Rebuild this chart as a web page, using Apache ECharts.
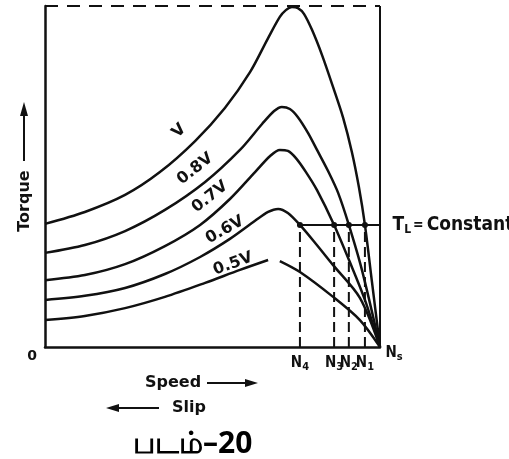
<!DOCTYPE html>
<html>
<head>
<meta charset="utf-8">
<script src="https://cdn.jsdelivr.net/npm/echarts@6/dist/echarts.min.js"></script>
<style>
  html, body { margin: 0; padding: 0; background: #fff; }
  #chart { width: 509px; height: 459px; }
</style>
</head>
<body>
<div id="chart"></div>
<script>
// Speed in % of synchronous speed Ns, torque in % of the full-voltage breakdown torque.
const curveV = [[0,36.1],[11.9,39.6],[23.9,44.6],[34.3,51.3],[44.8,60.4],[53.7,70.1],[61.2,80.6],[66.6,90.6],[70.1,96.8],[71.9,98.8],[73.7,99.7],[75.5,99.4],[77.3,97.7],[79.7,93.0],[82.7,85.6],[86.0,76.2],[89.0,67.2],[91.6,57.2],[93.7,46.9],[95.5,35.8],[97.6,19.1],[100,0]];
const curve08 = [[0,27.6],[11.9,29.9],[23.9,34.0],[35.8,40.2],[47.8,48.4],[58.2,57.8],[64.8,65.4],[68.4,69.2],[70.7,70.4],[73.1,69.8],[75.5,67.4],[78.5,62.8],[81.2,57.8],[84.5,51.6],[87.5,45.2],[90.7,35.8],[94.6,22.6],[100,0]];
const curve07 = [[0,19.6],[11.9,21.1],[23.9,24.3],[35.8,29.6],[46.3,35.8],[55.2,43.4],[62.7,51.3],[67.2,56.0],[70.1,57.8],[72.5,57.5],[74.9,55.4],[77.9,51.3],[81.2,46.0],[86.3,35.8],[91.0,24.9],[95.5,13.8],[100,0]];
const curve06 = [[0,13.8],[11.9,15.0],[23.9,17.3],[35.8,21.4],[46.3,26.4],[55.2,31.7],[62.7,37.0],[66.6,39.6],[69.6,40.5],[72.5,39.3],[76.1,35.8],[80.9,30.2],[86.0,24.0],[94.0,14.4],[100,0]];
const curve05Rise = [[0,7.9],[11.9,9.1],[23.9,11.4],[35.8,14.7],[47.8,18.8],[58.2,22.6],[66.6,25.5]];
const curve05Fall = [[70.1,25.2],[76.1,22.0],[86.0,14.7],[94.0,7.9],[100,0]];

const curveNames = ['V', '0.8V', '0.7V', '0.6V', '0.5V'];
const loadTorque = 35.8;                       // T_L
const speedTicks = [76.1, 86.3, 90.7, 95.5];   // N4, N3, N2, N1
const speedTickNames = ['N{s|4}', 'N{s|3}', 'N{s|2}', 'N{s|1}'];
const syncSpeed = 100;                         // Ns
const torqueTop = 100;

const INK = '#111';
const BOLD = '"DejaVu Sans", sans-serif';
const COND = '"DejaVu Sans Condensed", "DejaVu Sans", sans-serif';

// label placement for each curve name: anchor point index, screen shift to text centre, angle
const nameStyle = [
  { data: curveV,      idx: 4, dx: -16, dy: -10, rot: 45 },
  { data: curve08,     idx: 4, dx: -10, dy: -13, rot: 38 },
  { data: curve07,     idx: 5, dx: -20, dy: -2,  rot: 38 },
  { data: curve06,     idx: 5, dx: -5,  dy: -9,  rot: 29 },
  { data: curve05Rise, idx: 5, dx: -7,  dy: -6,  rot: 20 }
];

// label offsets are applied in the rotated text frame
function rotOffset(dx, dy, deg) {
  const t = deg * Math.PI / 180;
  return [dx * Math.cos(t) - dy * Math.sin(t), dx * Math.sin(t) + dy * Math.cos(t)];
}

const subStyle = (size, pad) => ({ fontFamily: COND, fontWeight: 'bold', fontSize: size, color: INK, padding: [pad, 0, 0, 0] });
const hidden = { color: 'transparent', opacity: 1 };

function curve(data) {
  return {
    type: 'line', data, symbol: 'none', smooth: 0.3, silent: true, z: 3,
    lineStyle: { color: INK, width: 2.5 }
  };
}

function dashedDrop(n) {
  return {
    type: 'line', data: [[n, 0], [n, loadTorque]], symbol: 'none', silent: true, z: 2,
    lineStyle: { color: INK, width: 2, type: [10, 5] }
  };
}

const series = [
  // frame: dashed top at breakdown torque, solid right edge at Ns
  { type: 'line', data: [[0, torqueTop], [syncSpeed, torqueTop]], symbol: 'none', silent: true,
    lineStyle: { color: INK, width: 2, type: [13, 9] } },
  { type: 'line', data: [[syncSpeed, 0], [syncSpeed, torqueTop]], symbol: 'none', silent: true,
    lineStyle: { color: INK, width: 2 } },
  curve(curveV), curve(curve08), curve(curve07), curve(curve06),
  curve(curve05Rise), curve(curve05Fall),
  // constant load torque line
  { type: 'line', clip: false, symbol: 'none', silent: true, z: 4,
    data: [[speedTicks[0], loadTorque],
           { value: [103, loadTorque], symbol: 'circle', symbolSize: 1,
             itemStyle: hidden,
             label: { show: true, position: 'right', distance: 2, color: INK,
               fontFamily: COND, fontWeight: 'bold', fontSize: 19,
               formatter: 'T{s|L}{q|=}Constant',
               rich: { s: subStyle(12, 9), q: { fontFamily: COND, fontWeight: 'bold', fontSize: 14, color: INK, padding: [0, 3, 0, 2] } } } }],
    lineStyle: { color: INK, width: 2 } },
  ...speedTicks.map(dashedDrop),
  // operating points
  { type: 'scatter', data: speedTicks.map(n => [n, loadTorque]), symbolSize: 6, silent: true, z: 5,
    itemStyle: { color: INK, opacity: 1 } },
  // speed names under the axis
  { type: 'scatter', silent: true, z: 5, symbolSize: 1, itemStyle: hidden,
    data: speedTicks.map(n => [n, 0]),
    label: { show: true, position: 'bottom', distance: 6, color: INK,
      formatter: p => speedTickNames[p.dataIndex],
      fontFamily: COND, fontWeight: 'bold', fontSize: 15, rich: { s: subStyle(11, 8) } } },
  // Ns marker label
  { type: 'scatter', silent: true, z: 5, symbolSize: 1, itemStyle: hidden,
    data: [[syncSpeed, 0]],
    label: { show: true, position: 'right', distance: 5, offset: [0, 6], formatter: 'N{s|s}',
      color: INK, fontFamily: COND, fontWeight: 'bold', fontSize: 15, rich: { s: subStyle(11, 8) } } },
  // voltage names along the curves
  { type: 'scatter', silent: true, z: 6, symbolSize: 1, itemStyle: hidden,
    data: nameStyle.map((c, i) => ({
      value: c.data[c.idx],
      label: { show: true, position: 'inside', formatter: curveNames[i], rotate: c.rot,
        offset: rotOffset(c.dx, c.dy, c.rot), color: INK, textBorderWidth: 0,
        fontFamily: BOLD, fontWeight: 'bold', fontSize: 16 }
    })) }
];

const chart = echarts.init(document.getElementById('chart'));
chart.setOption({
  animation: false,
  backgroundColor: '#fff',
  title: {
    text: 'படம்–20', left: 128, top: 424,
    textStyle: { color: '#000', fontSize: 30, fontWeight: 'bold', fontFamily: '"Noto Sans", sans-serif' }
  },
  grid: { left: 45, right: 129, top: 6, bottom: 112 },
  xAxis: {
    type: 'value', min: 0, max: syncSpeed,
    axisLine: { lineStyle: { color: INK, width: 2.5 } },
    axisTick: { show: false }, splitLine: { show: false }, axisLabel: { show: false }
  },
  yAxis: {
    type: 'value', min: 0, max: torqueTop,
    axisLine: { show: true, lineStyle: { color: INK, width: 2.5 } },
    axisTick: { show: false }, splitLine: { show: false },
    axisLabel: {
      customValues: [0], formatter: () => '0', margin: 8, verticalAlign: 'top', lineHeight: 18,
      color: INK, fontFamily: BOLD, fontWeight: 'bold', fontSize: 14
    }
  },
  graphic: [
    { type: 'text', x: 25, y: 201, rotation: Math.PI / 2,
      style: { text: 'Torque', fill: INK, font: 'bold 16px ' + BOLD, align: 'center', verticalAlign: 'middle' } },
    { type: 'line', shape: { x1: 24, y1: 161, x2: 24, y2: 112 }, style: { stroke: INK, lineWidth: 2 } },
    { type: 'polygon', shape: { points: [[24, 102], [20, 116], [28, 116]] }, style: { fill: INK } },
    { type: 'text', x: 145, y: 383,
      style: { text: 'Speed', fill: INK, font: 'bold 16px ' + BOLD, align: 'left', verticalAlign: 'middle' } },
    { type: 'line', shape: { x1: 207, y1: 383, x2: 247, y2: 383 }, style: { stroke: INK, lineWidth: 2 } },
    { type: 'polygon', shape: { points: [[258, 383], [245, 379], [245, 387]] }, style: { fill: INK } },
    { type: 'text', x: 172, y: 408,
      style: { text: 'Slip', fill: INK, font: 'bold 16px ' + BOLD, align: 'left', verticalAlign: 'middle' } },
    { type: 'line', shape: { x1: 118, y1: 408, x2: 159, y2: 408 }, style: { stroke: INK, lineWidth: 2 } },
    { type: 'polygon', shape: { points: [[106, 408], [119, 404], [119, 412]] }, style: { fill: INK } }
  ],
  series
});
</script>
</body>
</html>
